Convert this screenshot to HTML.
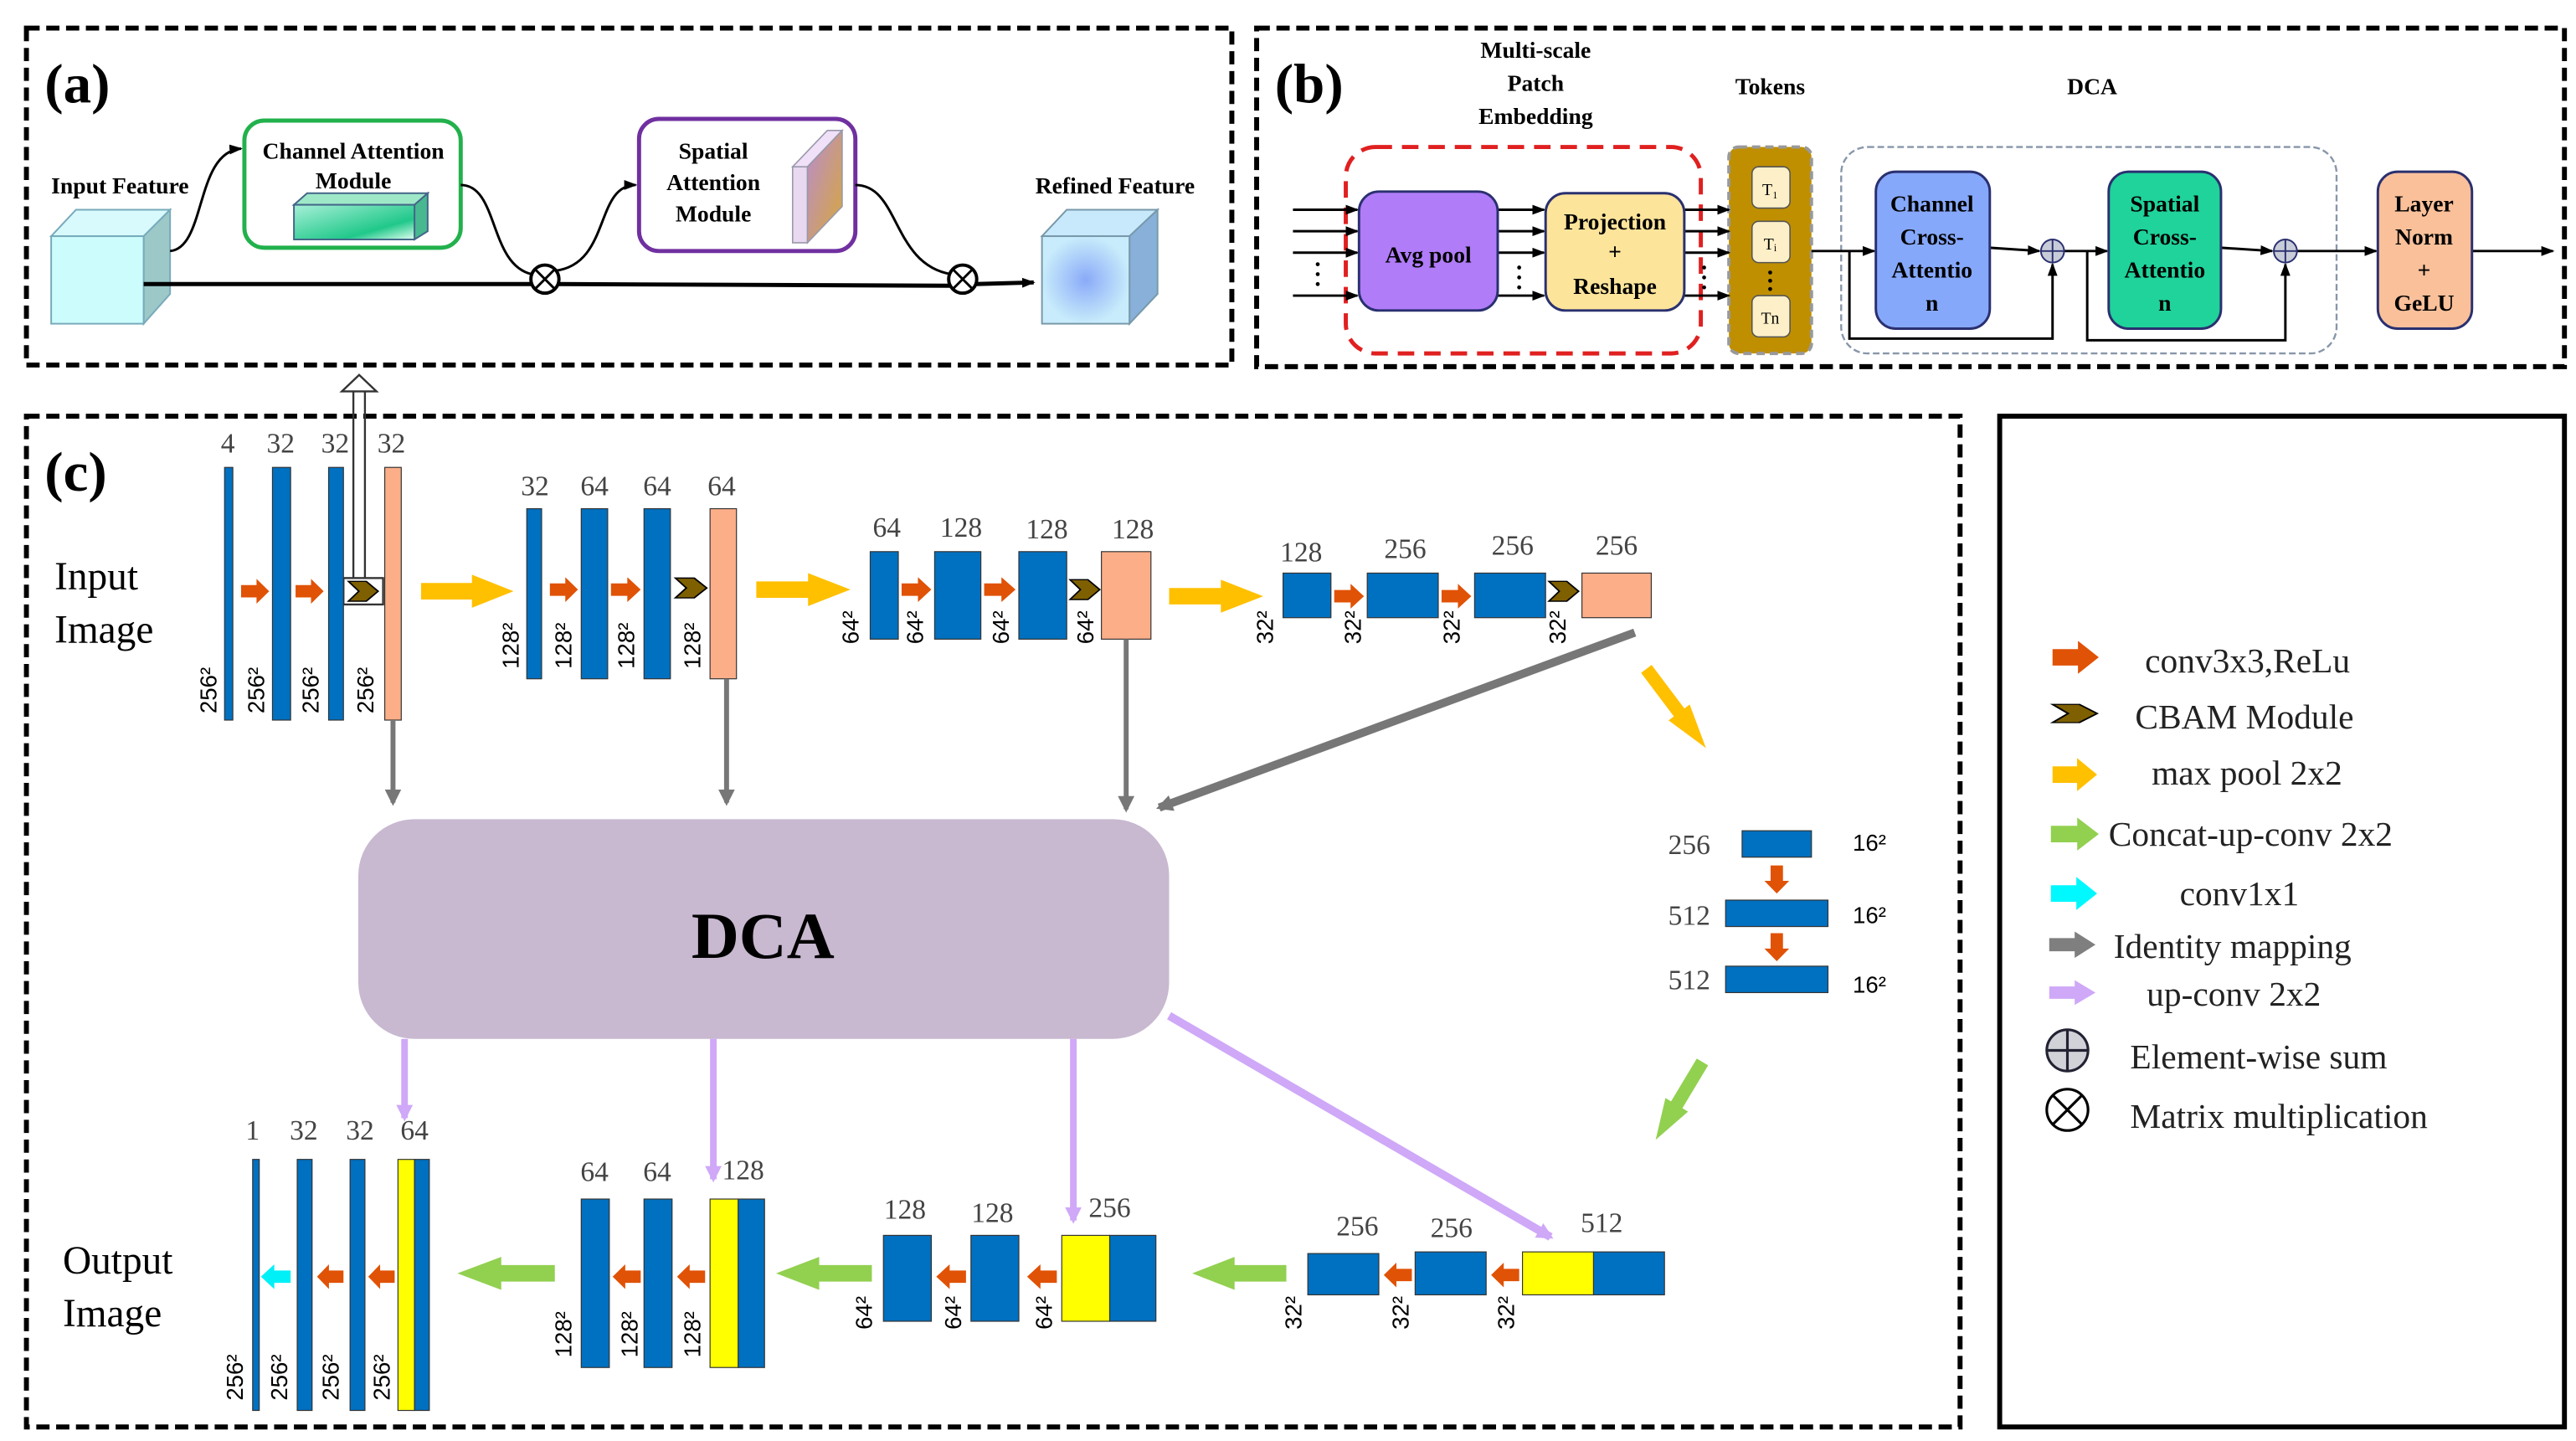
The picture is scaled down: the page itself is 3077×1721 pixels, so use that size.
<!DOCTYPE html>
<html><head><meta charset="utf-8"><style>
html,body{margin:0;padding:0;background:#fff;}
svg{display:block;}
.s{font-family:"Liberation Serif",serif;}
.b{font-family:"Liberation Serif",serif;font-weight:bold;}
.n{font-family:"Liberation Serif",serif;fill:#444;font-size:17px;text-anchor:middle;}
.r{font-family:"Liberation Sans",sans-serif;font-size:14px;fill:#000;}
.lg{font-family:"Liberation Serif",serif;font-size:21px;fill:#222;}
</style></head><body>
<svg width="3077" height="1721" viewBox="0 0 1560 872.5" preserveAspectRatio="none" xmlns="http://www.w3.org/2000/svg">
<defs>
<path id="ar" d="M0,-0.25 L0.55,-0.25 L0.55,-0.5 L1,0 L0.55,0.5 L0.55,0.25 L0,0.25 Z"/>
<path id="ch" d="M0,-0.5 L0.6,-0.5 L1,0 L0.6,0.5 L0,0.5 L0.35,0 Z"/>
<marker id="mk" markerWidth="8" markerHeight="8" refX="7" refY="4" orient="auto" markerUnits="userSpaceOnUse"><path d="M0,1 L8,4 L0,7 Z" fill="#000"/></marker>
<marker id="mg" markerWidth="10" markerHeight="10" refX="8" refY="5" orient="auto" markerUnits="userSpaceOnUse"><path d="M0,0 L10,5 L0,10 Z" fill="#777"/></marker>
<marker id="ml" markerWidth="10" markerHeight="10" refX="8" refY="5" orient="auto" markerUnits="userSpaceOnUse"><path d="M0,0 L10,5 L0,10 Z" fill="#cfa8f8"/></marker>
<linearGradient id="gc" x1="0" y1="0" x2="1" y2="1"><stop offset="0" stop-color="#a8f0d8"/><stop offset="0.7" stop-color="#20c88a"/><stop offset="1" stop-color="#e0fff0"/></linearGradient>
<linearGradient id="gs" x1="0" y1="0" x2="1" y2="1"><stop offset="0" stop-color="#b88cd0"/><stop offset="1" stop-color="#d8a838"/></linearGradient>
<radialGradient id="gr"><stop offset="0" stop-color="#8aaaf8"/><stop offset="1" stop-color="#c8ecfb"/></radialGradient>
</defs>

<!-- panel borders -->
<g fill="none" stroke="#000" stroke-width="3" stroke-dasharray="8,4">
<rect x="16" y="17" width="730" height="204"/>
<rect x="761" y="17" width="792" height="205"/>
<rect x="16" y="252" width="1171" height="612"/>
</g>
<rect x="1211" y="252" width="342" height="612" fill="none" stroke="#000" stroke-width="3"/>

<!-- (a) -->
<text x="27" y="62" class="b" font-size="34">(a)</text>
<text x="31" y="117" class="b" font-size="14">Input Feature</text>
<polygon points="31,143 46,127 103,127 87,143" fill="#d8fafc" stroke="#7ab" stroke-width="1"/>
<polygon points="87,143 103,127 103,178 87,196" fill="#9cc8c8" stroke="#7ab" stroke-width="1"/>
<rect x="31" y="143" width="56" height="53" fill="#ccfcfc" stroke="#7ab" stroke-width="1"/>
<rect x="148" y="73" width="131" height="77" rx="12" fill="#fff" stroke="#22b14c" stroke-width="2.5"/>
<text x="214" y="96" class="b" font-size="14" text-anchor="middle">Channel Attention</text>
<text x="214" y="114" class="b" font-size="14" text-anchor="middle">Module</text>
<polygon points="178,124 186,117 259,117 251,124" fill="#9ee8c8" stroke="#468" stroke-width="1"/>
<polygon points="251,124 259,117 259,140 251,145" fill="#48b890" stroke="#468" stroke-width="1"/>
<rect x="178" y="124" width="73" height="21" fill="url(#gc)" stroke="#468" stroke-width="1"/>
<rect x="387" y="72" width="131" height="80" rx="12" fill="#fff" stroke="#7030a0" stroke-width="2.5"/>
<text x="432" y="96" class="b" font-size="14" text-anchor="middle">Spatial</text>
<text x="432" y="115" class="b" font-size="14" text-anchor="middle">Attention</text>
<text x="432" y="134" class="b" font-size="14" text-anchor="middle">Module</text>
<polygon points="480,101 489,101 489,147 480,147" fill="#e8d8f0" stroke="#99a" stroke-width="0.8"/>
<polygon points="480,101 501,79 510,79 489,101" fill="#f0e0f8" stroke="#99a" stroke-width="0.8"/>
<polygon points="489,101 510,79 510,125 489,147" fill="url(#gs)" stroke="#99a" stroke-width="0.8"/>
<g fill="none" stroke="#000" stroke-width="1.5">
<line x1="87" y1="172" x2="322" y2="172" stroke-width="2.5"/>
<line x1="338" y1="172" x2="575" y2="173" stroke-width="2.5"/>
<line x1="591" y1="172" x2="626" y2="171" stroke-width="2.5" marker-end="url(#mk)"/>
<path d="M103,152 C125,150 118,92 146,90" marker-end="url(#mk)"/>
<path d="M279,112 C302,112 296,160 322,166"/>
<path d="M336,164 C370,160 360,112 385,112" marker-end="url(#mk)"/>
<path d="M518,112 C545,112 540,160 576,166"/>
<circle cx="330" cy="169" r="8.5" fill="#fff" stroke-width="2"/>
<path d="M324,163 L336,175 M336,163 L324,175"/>
<circle cx="583" cy="169" r="8.5" fill="#fff" stroke-width="2"/>
<path d="M577,163 L589,175 M589,163 L577,175"/>
</g>
<text x="627" y="117" class="b" font-size="14">Refined Feature</text>
<polygon points="631,143 646,127 701,127 684,143" fill="#c8e8fb" stroke="#79a" stroke-width="1"/>
<polygon points="684,143 701,127 701,178 684,196" fill="#88b0d8" stroke="#79a" stroke-width="1"/>
<rect x="631" y="143" width="53" height="53" fill="url(#gr)" stroke="#79a" stroke-width="1"/>

<!-- (b) -->
<text x="772" y="62" class="b" font-size="34">(b)</text>
<g class="b" font-size="14" text-anchor="middle">
<text x="930" y="35">Multi-scale</text><text x="930" y="55">Patch</text><text x="930" y="75">Embedding</text>
<text x="1072" y="57">Tokens</text><text x="1267" y="57">DCA</text>
</g>
<rect x="815" y="89" width="215" height="125" rx="18" fill="none" stroke="#e02020" stroke-width="2.5" stroke-dasharray="10,6"/>
<rect x="1047" y="89" width="50" height="125" rx="6" fill="#bf8f00" stroke="#999" stroke-width="2" stroke-dasharray="5,3"/>
<rect x="1115" y="89" width="300" height="125" rx="16" fill="none" stroke="#8896aa" stroke-width="1.2" stroke-dasharray="4,2"/>
<g stroke="#000" stroke-width="1.5" marker-end="url(#mk)">
<line x1="783" y1="127" x2="822" y2="127"/><line x1="783" y1="140" x2="822" y2="140"/><line x1="783" y1="153" x2="822" y2="153"/><line x1="783" y1="179" x2="822" y2="179"/>
<line x1="907" y1="127" x2="935" y2="127"/><line x1="907" y1="140" x2="935" y2="140"/><line x1="907" y1="153" x2="935" y2="153"/><line x1="907" y1="179" x2="935" y2="179"/>
<line x1="1020" y1="127" x2="1047" y2="127"/><line x1="1020" y1="140" x2="1047" y2="140"/><line x1="1020" y1="153" x2="1047" y2="153"/><line x1="1020" y1="179" x2="1047" y2="179"/>
<line x1="1097" y1="152" x2="1135" y2="152"/>
<line x1="1205" y1="150" x2="1235" y2="152"/>
<line x1="1250" y1="152" x2="1276" y2="152"/>
<line x1="1345" y1="150" x2="1376" y2="152"/>
<line x1="1391" y1="152" x2="1439" y2="152"/>
<line x1="1497" y1="152" x2="1546" y2="152"/>
</g>
<g fill="none" stroke="#000" stroke-width="1.5">
<path d="M1120,152 L1120,205 L1243,205 L1243,160" marker-end="url(#mk)"/>
<path d="M1264,152 L1264,206 L1384,206 L1384,160" marker-end="url(#mk)"/>
</g>
<g fill="#000"><circle cx="798" cy="160" r="1.2"/><circle cx="798" cy="166" r="1.2"/><circle cx="798" cy="172" r="1.2"/>
<circle cx="920" cy="162" r="1.2"/><circle cx="920" cy="168" r="1.2"/><circle cx="920" cy="174" r="1.2"/>
<circle cx="1032" cy="162" r="1.2"/><circle cx="1032" cy="168" r="1.2"/><circle cx="1032" cy="174" r="1.2"/>
<circle cx="1072" cy="165" r="1.2"/><circle cx="1072" cy="170" r="1.2"/><circle cx="1072" cy="175" r="1.2"/></g>
<rect x="823" y="116" width="84" height="72" rx="12" fill="#b07cf8" stroke="#2a3070" stroke-width="1.5"/>
<text x="865" y="159" class="b" font-size="14" text-anchor="middle">Avg pool</text>
<rect x="936" y="117" width="84" height="71" rx="12" fill="#fde49b" stroke="#2a3070" stroke-width="1.5"/>
<g class="b" font-size="14" text-anchor="middle"><text x="978" y="139">Projection</text><text x="978" y="157">+</text><text x="978" y="178">Reshape</text></g>
<g fill="#fdf0c8" stroke="#555" stroke-width="0.8">
<rect x="1061" y="101" width="23" height="25" rx="4"/><rect x="1061" y="134" width="23" height="25" rx="4"/><rect x="1061" y="179" width="23" height="25" rx="4"/></g>
<g class="s" font-size="10" text-anchor="middle"><text x="1072" y="118">T₁</text><text x="1072" y="151">Tᵢ</text><text x="1072" y="196">Tn</text></g>
<rect x="1136" y="104" width="69" height="95" rx="12" fill="#86a8fb" stroke="#2a3070" stroke-width="1.5"/>
<g class="b" font-size="14" text-anchor="middle"><text x="1170" y="128">Channel</text><text x="1170" y="148">Cross-</text><text x="1170" y="168">Attentio</text><text x="1170" y="188">n</text></g>
<rect x="1277" y="104" width="68" height="95" rx="12" fill="#1fd39a" stroke="#2a3070" stroke-width="1.5"/>
<g class="b" font-size="14" text-anchor="middle"><text x="1311" y="128">Spatial</text><text x="1311" y="148">Cross-</text><text x="1311" y="168">Attentio</text><text x="1311" y="188">n</text></g>
<rect x="1440" y="104" width="57" height="95" rx="12" fill="#f9c09a" stroke="#2a3070" stroke-width="1.5"/>
<g class="b" font-size="14" text-anchor="middle"><text x="1468" y="128">Layer</text><text x="1468" y="148">Norm</text><text x="1468" y="168">+</text><text x="1468" y="188">GeLU</text></g>
<g stroke="#2a3070" stroke-width="1"><circle cx="1243" cy="152" r="7" fill="#c8ccd8"/><path d="M1236,152 H1250 M1243,145 V159"/>
<circle cx="1384" cy="152" r="7" fill="#c8ccd8"/><path d="M1377,152 H1391 M1384,145 V159"/></g>

<!-- (c) -->
<text x="27" y="297" class="b" font-size="34">(c)</text>
<text x="33" y="357" class="s" font-size="24">Input</text>
<text x="33" y="389" class="s" font-size="24">Image</text>
<text x="38" y="771" class="s" font-size="24">Output</text>
<text x="38" y="803" class="s" font-size="24">Image</text>

<!-- hollow up arrow -->
<g fill="none" stroke="#333" stroke-width="1.2">
<line x1="214" y1="237" x2="214" y2="351"/><line x1="221" y1="237" x2="221" y2="351"/>
<polygon points="207,237 228,237 217.5,227" fill="#fff"/>
<rect x="208" y="350" width="24" height="16" fill="#fff"/>
</g>

<!-- encoder bars -->
<g stroke="#333" stroke-width="0.6">
<g fill="#0070c0">
<rect x="136" y="283" width="5" height="153"/><rect x="165" y="283" width="11" height="153"/><rect x="199" y="283" width="9" height="153"/>
<rect x="319" y="308" width="9" height="103"/><rect x="352" y="308" width="16" height="103"/><rect x="390" y="308" width="16" height="103"/>
<rect x="527" y="334" width="17" height="53"/><rect x="566" y="334" width="28" height="53"/><rect x="617" y="334" width="29" height="53"/>
<rect x="777" y="347" width="29" height="27"/><rect x="828" y="347" width="43" height="27"/><rect x="893" y="347" width="43" height="27"/>
<rect x="1055" y="503" width="42" height="16"/><rect x="1045" y="545" width="62" height="16"/><rect x="1045" y="585" width="62" height="16"/>
<rect x="792" y="759" width="43" height="25"/><rect x="857" y="758" width="43" height="26"/><rect x="965" y="758" width="43" height="26"/>
<rect x="535" y="748" width="29" height="52"/><rect x="588" y="748" width="29" height="52"/><rect x="672" y="748" width="28" height="52"/>
<rect x="352" y="726" width="17" height="102"/><rect x="390" y="726" width="17" height="102"/><rect x="447" y="726" width="16" height="102"/>
<rect x="153" y="702" width="4" height="152"/><rect x="180" y="702" width="9" height="152"/><rect x="212" y="702" width="9" height="152"/><rect x="251" y="702" width="9" height="152"/>
</g>
<g fill="#fbae88">
<rect x="233" y="283" width="10" height="153"/><rect x="430" y="308" width="16" height="103"/><rect x="667" y="334" width="30" height="53"/><rect x="958" y="347" width="42" height="27"/>
</g>
<g fill="#ffff00">
<rect x="922" y="758" width="43" height="26"/><rect x="643" y="748" width="29" height="52"/><rect x="430" y="726" width="17" height="102"/><rect x="241" y="702" width="10" height="152"/>
</g>
</g>

<!-- top labels -->
<g class="n">
<text x="138" y="274">4</text><text x="170" y="274">32</text><text x="203" y="274">32</text><text x="237" y="274">32</text>
<text x="324" y="300">32</text><text x="360" y="300">64</text><text x="398" y="300">64</text><text x="437" y="300">64</text>
<text x="537" y="325">64</text><text x="582" y="325">128</text><text x="634" y="326">128</text><text x="686" y="326">128</text>
<text x="788" y="340">128</text><text x="851" y="338">256</text><text x="916" y="336">256</text><text x="979" y="336">256</text>
<text x="1023" y="517">256</text><text x="1023" y="560">512</text><text x="1023" y="599">512</text>
<text x="822" y="748">256</text><text x="879" y="749">256</text><text x="970" y="746">512</text>
<text x="548" y="738">128</text><text x="601" y="740">128</text><text x="672" y="737">256</text>
<text x="360" y="715">64</text><text x="398" y="715">64</text><text x="450" y="714">128</text>
<text x="153" y="690">1</text><text x="184" y="690">32</text><text x="218" y="690">32</text><text x="251" y="690">64</text>
</g>
<g class="r" font-size="14"><text x="1122" y="515">16²</text><text x="1122" y="559">16²</text><text x="1122" y="601">16²</text></g>

<!-- rotated size labels -->
<g class="r">
<text transform="translate(131,432) rotate(-90)">256²</text><text transform="translate(160,432) rotate(-90)">256²</text><text transform="translate(193,432) rotate(-90)">256²</text><text transform="translate(226,432) rotate(-90)">256²</text>
<text transform="translate(314,405) rotate(-90)">128²</text><text transform="translate(346,405) rotate(-90)">128²</text><text transform="translate(384,405) rotate(-90)">128²</text><text transform="translate(424,405) rotate(-90)">128²</text>
<text transform="translate(520,390) rotate(-90)">64²</text><text transform="translate(559,390) rotate(-90)">64²</text><text transform="translate(611,390) rotate(-90)">64²</text><text transform="translate(662,390) rotate(-90)">64²</text>
<text transform="translate(771,390) rotate(-90)">32²</text><text transform="translate(824,390) rotate(-90)">32²</text><text transform="translate(884,390) rotate(-90)">32²</text><text transform="translate(948,390) rotate(-90)">32²</text>
<text transform="translate(788,805) rotate(-90)">32²</text><text transform="translate(853,805) rotate(-90)">32²</text><text transform="translate(917,805) rotate(-90)">32²</text>
<text transform="translate(528,805) rotate(-90)">64²</text><text transform="translate(582,805) rotate(-90)">64²</text><text transform="translate(637,805) rotate(-90)">64²</text>
<text transform="translate(346,822) rotate(-90)">128²</text><text transform="translate(386,822) rotate(-90)">128²</text><text transform="translate(424,822) rotate(-90)">128²</text>
<text transform="translate(147,848) rotate(-90)">256²</text><text transform="translate(174,848) rotate(-90)">256²</text><text transform="translate(205,848) rotate(-90)">256²</text><text transform="translate(236,848) rotate(-90)">256²</text>
</g>

<!-- orange conv arrows -->
<g fill="#e05206">
<use href="#ar" transform="translate(146,358) scale(17,15)"/><use href="#ar" transform="translate(179,358) scale(17,15)"/>
<use href="#ar" transform="translate(333,357) scale(17,15)"/><use href="#ar" transform="translate(370,357) scale(18,15)"/>
<use href="#ar" transform="translate(546,357) scale(18,15)"/><use href="#ar" transform="translate(596,357) scale(19,15)"/>
<use href="#ar" transform="translate(808,361) scale(18,15)"/><use href="#ar" transform="translate(873,361) scale(18,15)"/>
<use href="#ar" transform="translate(1076,524) rotate(90) scale(17,15)"/><use href="#ar" transform="translate(1076,565) rotate(90) scale(17,15)"/>
<use href="#ar" transform="translate(855,772) scale(-17,15)"/><use href="#ar" transform="translate(920,772) scale(-17,15)"/>
<use href="#ar" transform="translate(585,773) scale(-18,15)"/><use href="#ar" transform="translate(640,773) scale(-18,15)"/>
<use href="#ar" transform="translate(388,773) scale(-17,15)"/><use href="#ar" transform="translate(427,773) scale(-17,15)"/>
<use href="#ar" transform="translate(208,773) scale(-16,15)"/><use href="#ar" transform="translate(239,773) scale(-16,15)"/>
</g>
<use href="#ar" transform="translate(176,773) scale(-18,15)" fill="#00f0f8"/>
<!-- chevrons -->
<g fill="#7f6000" stroke="#000" stroke-width="0.06">
<use href="#ch" transform="translate(211,358) scale(18,12)"/><use href="#ch" transform="translate(409,356) scale(19,12)"/>
<use href="#ch" transform="translate(648,357) scale(18,12)"/><use href="#ch" transform="translate(938,358) scale(18,12)"/>
</g>
<!-- max pool arrows -->
<g fill="#ffc000">
<use href="#ar" transform="translate(255,358) scale(56,20)"/><use href="#ar" transform="translate(458,357) scale(57,20)"/><use href="#ar" transform="translate(708,361) scale(57,20)"/>
<use href="#ar" transform="translate(997,405) rotate(53) scale(60,16)"/>
</g>
<!-- green concat arrows -->
<g fill="#92d050">
<use href="#ar" transform="translate(1031,643) rotate(121) scale(55,16)"/>
<use href="#ar" transform="translate(779,771) scale(-57,20)"/><use href="#ar" transform="translate(528,771) scale(-58,20)"/><use href="#ar" transform="translate(336,771) scale(-59,20)"/>
</g>
<!-- identity -->
<g stroke="#777" stroke-width="3" marker-end="url(#mg)">
<line x1="238" y1="436" x2="238" y2="486"/><line x1="440" y1="411" x2="440" y2="486"/><line x1="682" y1="387" x2="682" y2="490"/>
<line x1="990" y1="383" x2="702" y2="489" stroke-width="5"/>
</g>
<!-- DCA -->
<rect x="217" y="496" width="491" height="133" rx="34" fill="#c8b8d0"/>
<text x="462" y="580" class="b" font-size="40" text-anchor="middle">DCA</text>
<g stroke="#cfa8f8" stroke-width="4" marker-end="url(#ml)">
<line x1="245" y1="629" x2="245" y2="677"/><line x1="432" y1="629" x2="432" y2="714"/><line x1="650" y1="629" x2="650" y2="739"/>
<line x1="708" y1="615" x2="939" y2="749" stroke-width="5"/>
</g>

<!-- legend -->
<use href="#ar" transform="translate(1243,398) scale(28,20)" fill="#e05206"/>
<use href="#ch" transform="translate(1243,432) scale(27,11)" fill="#7f6000" stroke="#000" stroke-width="0.06"/>
<use href="#ar" transform="translate(1243,469) scale(27,20)" fill="#ffc000"/>
<use href="#ar" transform="translate(1242,505) scale(29,20)" fill="#92d050"/>
<use href="#ar" transform="translate(1242,541) scale(28,20)" fill="#00f8ff"/>
<use href="#ar" transform="translate(1241,572) scale(28,16)" fill="#7f7f7f"/>
<use href="#ar" transform="translate(1241,601) scale(28,15)" fill="#cfa8f8"/>
<g stroke="#223" stroke-width="1.6"><circle cx="1252" cy="636" r="12.5" fill="#d0d2d8"/><path d="M1239.5,636 H1264.5 M1252,623.5 V648.5"/></g>
<g stroke="#000" stroke-width="1.6" fill="none"><circle cx="1252" cy="672" r="12.5"/><path d="M1243,663 L1261,681 M1261,663 L1243,681"/></g>
<g class="lg">
<text x="1299" y="407">conv3x3,ReLu</text>
<text x="1293" y="441">CBAM Module</text>
<text x="1303" y="475">max pool 2x2</text>
<text x="1277" y="512">Concat-up-conv 2x2</text>
<text x="1320" y="548">conv1x1</text>
<text x="1280" y="580">Identity mapping</text>
<text x="1300" y="609">up-conv 2x2</text>
<text x="1290" y="647">Element-wise sum</text>
<text x="1290" y="683">Matrix multiplication</text>
</g>
</svg>
</body></html>
